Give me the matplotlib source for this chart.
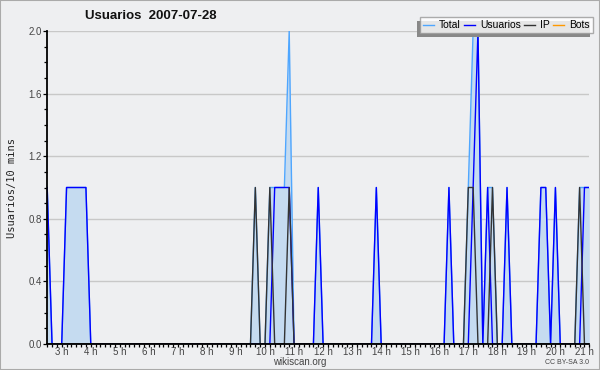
import matplotlib
matplotlib.use('Agg')
import matplotlib.pyplot as plt
from matplotlib.patches import Rectangle
from matplotlib.ticker import MultipleLocator, FixedLocator
import numpy as np

plt.rcParams['font.family'] = ['Liberation Sans', 'DejaVu Sans']

# 10-minute steps from 2h30 to 21h10
start_hour = 2.5
step_hours = 1 / 6

#            2h30 row, then one row per hour (3h ... 20h), then 21h00, 21h10
total = [1, 0, 0,
         0, 1, 1, 1, 1, 1,   # 3h
         0, 0, 0, 0, 0, 0,   # 4h
         0, 0, 0, 0, 0, 0,   # 5h
         0, 0, 0, 0, 0, 0,   # 6h
         0, 0, 0, 0, 0, 0,   # 7h
         0, 0, 0, 0, 0, 0,   # 8h
         0, 0, 0, 0, 1, 0,   # 9h
         0, 1, 1, 1, 1, 2,   # 10h
         0, 0, 0, 0, 0, 1,   # 11h
         0, 0, 0, 0, 0, 0,   # 12h
         0, 0, 0, 0, 0, 1,   # 13h
         0, 0, 0, 0, 0, 0,   # 14h
         0, 0, 0, 0, 0, 0,   # 15h
         0, 0, 1, 0, 0, 0,   # 16h
         1, 2, 2, 0, 1, 1,   # 17h
         0, 0, 1, 0, 0, 0,   # 18h
         0, 0, 0, 1, 1, 0,   # 19h
         1, 0, 0, 0, 0, 1,   # 20h
         1, 1]

usuarios = [1, 0, 0,
            0, 1, 1, 1, 1, 1,
            0, 0, 0, 0, 0, 0,
            0, 0, 0, 0, 0, 0,
            0, 0, 0, 0, 0, 0,
            0, 0, 0, 0, 0, 0,
            0, 0, 0, 0, 0, 0,
            0, 0, 0, 0, 0, 0,
            0, 0, 1, 1, 1, 1,
            0, 0, 0, 0, 0, 1,
            0, 0, 0, 0, 0, 0,
            0, 0, 0, 0, 0, 1,
            0, 0, 0, 0, 0, 0,
            0, 0, 0, 0, 0, 0,
            0, 0, 1, 0, 0, 0,
            0, 1, 2, 0, 1, 0,
            0, 0, 1, 0, 0, 0,
            0, 0, 0, 1, 1, 0,
            1, 0, 0, 0, 0, 0,
            1, 1]

ip = [0, 0, 0,
      0, 0, 0, 0, 0, 0,
      0, 0, 0, 0, 0, 0,
      0, 0, 0, 0, 0, 0,
      0, 0, 0, 0, 0, 0,
      0, 0, 0, 0, 0, 0,
      0, 0, 0, 0, 0, 0,
      0, 0, 0, 0, 1, 0,
      0, 1, 0, 0, 0, 1,
      0, 0, 0, 0, 0, 0,
      0, 0, 0, 0, 0, 0,
      0, 0, 0, 0, 0, 0,
      0, 0, 0, 0, 0, 0,
      0, 0, 0, 0, 0, 0,
      0, 0, 0, 0, 0, 0,
      1, 1, 0, 0, 0, 1,
      0, 0, 0, 0, 0, 0,
      0, 0, 0, 0, 0, 0,
      0, 0, 0, 0, 0, 1,
      0, 0]

bots = [0] * len(total)

hour_ticks = list(range(3, 22))
hour_labels = ['%d h' % h for h in hour_ticks]
y_ticks = [0.0, 0.4, 0.8, 1.2, 1.6, 2.0]

x = start_hour + step_hours * np.arange(len(total))

bg = '#eeeff1'
fig = plt.figure(figsize=(6, 3.7), dpi=100, facecolor=bg)
fig.patches.append(Rectangle((0, 0), 1, 1, transform=fig.transFigure,
                             fill=False, edgecolor='#aaaaaa', linewidth=1.5))

ax = fig.add_axes([47.2 / 600, 26 / 370, 542.1 / 600, 313 / 370])
ax.set_facecolor(bg)

ax.fill_between(x, total, 0, color='#c5dbf0', linewidth=0, zorder=1)
ax.plot(x, total, color='#4ea6ff', lw=1, label='Total', zorder=2)
ax.plot(x, usuarios, color='#0000ff', lw=1, label='Usuarios', zorder=3)
ax.plot(x, ip, color='#333333', lw=1, label='IP', zorder=4)
ax.plot(x, bots, color='#ff9900', lw=1, label='Bots', zorder=0.5)

ax.set_xlim(x[0], x[-1])
ax.set_ylim(0, 2.0)

ax.set_yticks(y_ticks)
ax.set_yticklabels(['%.1f' % v for v in y_ticks])
ax.yaxis.set_minor_locator(MultipleLocator(0.1))
ax.xaxis.set_major_locator(FixedLocator(hour_ticks))
ax.xaxis.set_minor_locator(MultipleLocator(step_hours))
ax.set_xticklabels(hour_labels)

ax.tick_params(axis='y', which='major', length=3, width=0.9, color='black',
               labelsize=7, labelcolor='#444444', pad=1)
ax.tick_params(axis='y', which='minor', length=2.2, width=0.9, color='black')
ax.tick_params(axis='x', which='major', length=2.2, width=0.9, color='black',
               labelsize=7, labelcolor='#444444', pad=0)
ax.tick_params(axis='x', which='minor', length=2.2, width=0.9, color='black')
ax.grid(axis='y', which='major', color='#c8c8c8', lw=1, zorder=0)
ax.set_axisbelow(True)

for s in ['top', 'right']:
    ax.spines[s].set_visible(False)
for s in ['left', 'bottom']:
    ax.spines[s].set_linewidth(1.3)
    ax.spines[s].set_zorder(6)

ax.set_ylabel('Usuarios/10 mins', family='DejaVu Sans Mono', fontsize=7.5,
              color='#222222', labelpad=8)

fig.text(85 / 600, 1 - 16 / 370, 'Usuarios  2007-07-28', fontsize=9.5,
         fontweight='bold', color='#111111', ha='left', va='center')
fig.text(300 / 600, 1 - 362 / 370, 'wikiscan.org', fontsize=7,
         color='#444444', ha='center', va='center')
fig.text(589 / 600, 1 - 362.5 / 370, 'CC BY-SA 3.0', fontsize=5,
         color='#444444', ha='right', va='center')

leg = fig.legend(loc='upper right', bbox_to_anchor=(593 / 600, 1 - 17.5 / 370),
                 ncol=4, fontsize=7.5, frameon=True, fancybox=False,
                 handlelength=1.1, handletextpad=0.5, columnspacing=0.25,
                 borderpad=0.28, borderaxespad=0)
leg.get_frame().set_edgecolor('#999999')
leg.get_frame().set_facecolor('white')
leg.get_frame().set_linewidth(1)
leg.set_zorder(10)

# shadow of the legend, shifted to the lower left
fig.canvas.draw()
bb = leg.get_frame().get_window_extent().transformed(fig.transFigure.inverted())
fig.patches.append(Rectangle((bb.x0 - 3 / 600, bb.y0 - 4 / 370), bb.width, bb.height,
                             transform=fig.transFigure, facecolor='#888888',
                             edgecolor='none', zorder=5))

fig.savefig('out.png', dpi=100, facecolor=bg)
